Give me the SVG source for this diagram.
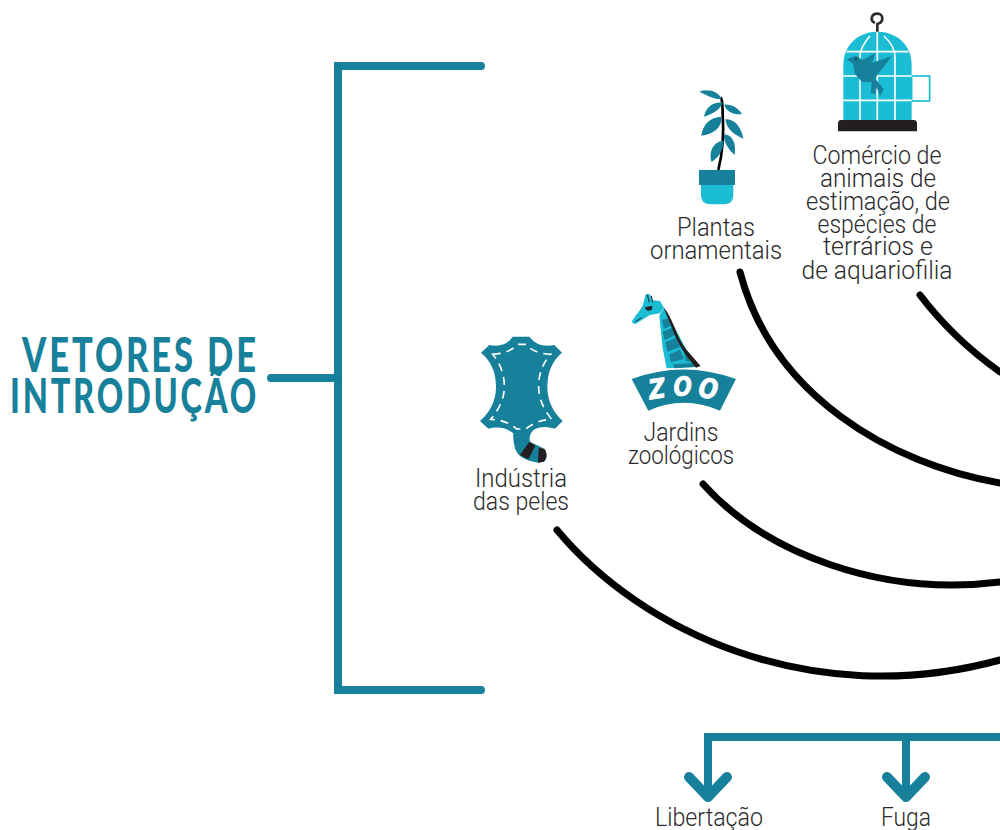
<svg xmlns="http://www.w3.org/2000/svg" width="1000" height="830" viewBox="0 0 1000 830">
<style>
.l{font-family:"Roboto","Liberation Sans",sans-serif;font-weight:300;font-size:26px;fill:#2b2b2b;text-anchor:middle}
.t{font-family:"Lato","Liberation Sans",sans-serif;font-weight:900;font-size:47px;letter-spacing:4px;fill:#17809b;text-anchor:start}
.tl{fill:none;stroke:#17809b;stroke-linecap:round;stroke-width:8}
.bk{fill:none;stroke:#000;stroke-linecap:round;stroke-width:7}
.a{fill:none;stroke:#17809b;stroke-linecap:round;stroke-linejoin:round;stroke-width:10}
.teal{fill:#17809b}.cy{fill:#1bbdd4}.w{fill:none;stroke:#fff;stroke-width:5}
.z{font-family:"DejaVu Sans",sans-serif;font-weight:700;font-style:italic;font-size:82px;fill:#fff;stroke:#fff;stroke-width:2;text-anchor:middle}
</style>
<rect width="1000" height="830" fill="#fff"/>
<g id="title">
<text class="t" x="22" y="372" textLength="237" lengthAdjust="spacingAndGlyphs">VETORES DE</text>
<text class="t" x="10" y="413" textLength="249" lengthAdjust="spacingAndGlyphs">INTRODUÇÃO</text>
</g>
<g id="connectors">
<path class="tl" d="M481 66H338V690H481"/>
<path class="tl" d="M271 378H338"/>
<path class="bk" d="M740 272C772 395 890 464 1000 483"/>
<path class="bk" d="M920 295C942 324 972 352 1000 372"/>
<path class="bk" d="M703 484C765 553 880 597 1000 582"/>
<path class="bk" d="M557 530C640 630 810 712 1000 660"/>
<path class="tl" style="stroke-linecap:butt" d="M1000 737H708V798M906 737V798"/>
<path class="a" d="M689 777L708 797L727 777M887 777L906 797L925 777"/>
</g>
<g id="plant" transform="translate(680 0) scale(.3333)">
<path d="M115 510C130 450 132 400 128 340C128 320 128 300 122 292" fill="none" stroke="#000" stroke-width="8"/>
<path class="teal" d="M58 275C85 265 115 275 125 297C100 298 80 285 58 275ZM72 350C78 320 100 305 128 308C120 330 100 340 72 350ZM133 314C155 312 175 325 186 342C165 345 140 338 133 314ZM64 407C68 375 90 350 125 350C125 385 100 402 64 407ZM136 358C165 355 185 385 190 416C165 405 140 390 136 358ZM95 486C85 455 100 425 130 422C130 450 118 470 95 486ZM132 402C155 405 170 425 164 465C148 450 130 430 132 402Z"/>
<path class="cy" d="M63 550H160V585Q160 613 132 613H91Q63 613 63 585Z"/>
<rect class="teal" x="57" y="510" width="108" height="45"/>
</g>
<g id="cage" transform="translate(680 0) scale(.3333)">
<path d="M592 96V72C612 68 612 41 592 41C574 41 570 60 582 67" fill="none" stroke="#2b2b2b" stroke-width="8" stroke-linecap="round"/>
<rect x="695" y="228" width="54" height="75" fill="#fff" stroke="#1bbdd4" stroke-width="5"/>
<path class="cy" d="M490 360V195C490 135 535 95 592 95C650 95 695 135 695 195V360Z"/>
<path class="w" d="M500 155H685M490 228H695M490 301H695M592 95V360M540 360V170C540 145 555 125 570 108M645 360V170C645 145 630 125 612 108"/>
<path class="teal" d="M500 178L528 167L548 180L585 160L577 188L636 168L602 212L585 235L612 268L600 288L590 262L585 282L572 280L575 247L545 245L525 222L518 190Z"/>
<circle cx="528" cy="177" r="3" fill="#222"/>
<path d="M474 394V370Q474 360 484 360H701Q711 360 711 370V394Z" fill="#231f20"/>
</g>
<g id="leather" transform="translate(460 285) scale(.3333)">
<path class="teal" d="M63 203L88 180Q135 190 158 155H208Q235 190 283 180L306 203Q262 240 262 305Q262 365 308 408L285 431Q250 420 225 432Q205 445 210 470L250 490Q268 510 255 528L235 533Q175 525 165 490Q158 465 160 445Q130 420 85 431L60 408Q108 365 108 305Q108 240 63 203Z"/>
<path d="M208 470L226 482L205 523L180 510ZM236 488L254 492Q266 510 252 530L234 533Z" fill="#231f20"/>
<path fill="none" stroke="#fff" stroke-width="5" stroke-dasharray="24 18" d="M98 208Q150 205 172 178H198Q220 205 272 208Q235 250 236 305Q236 355 275 403Q230 405 198 432H170Q140 405 92 403Q133 355 133 305Q133 250 98 208Z"/>
</g>
<g id="zoo" transform="translate(460 285) scale(.3333)">
<path class="cy" d="M598 92L612 68L680 195L716 245L620 250L608 190Z"/>
<path class="teal" d="M606 105L625 100L632 122L612 132ZM608 140L636 128L645 150L614 166ZM616 172L648 158L660 186L622 200ZM628 208L660 194L672 222L632 232ZM668 190L684 205L690 232L678 228ZM640 238L700 234L705 246L642 250Z"/>
<path d="M610 66C640 100 650 160 680 195L722 243L708 248C670 205 650 170 630 115Z" fill="#231f20"/>
<path class="cy" d="M515 112C525 90 545 75 550 55L557 28L568 26L578 46L600 48L612 68L600 85L570 90L525 118Z"/>
<path d="M556 68L576 64L574 74L562 76ZM527 110L545 98" fill="#231f20" stroke="#231f20" stroke-width="3"/>
<path d="M562 30L568 52M574 32L578 52" stroke="#231f20" stroke-width="3" fill="none"/>
<path class="teal" d="M515 282Q670 225 828 282L780 377Q670 330 565 377Z"/>
<text class="z" x="595" y="340" textLength="50" lengthAdjust="spacingAndGlyphs" transform="rotate(-8 595 340)">Z</text>
<text class="z" x="668" y="332" textLength="55" lengthAdjust="spacingAndGlyphs">O</text>
<text class="z" x="741" y="339" textLength="58" lengthAdjust="spacingAndGlyphs" transform="rotate(8 741 339)">O</text>
</g>
<g id="labels">
<text class="l" x="877" y="164" textLength="129" lengthAdjust="spacingAndGlyphs">Comércio de</text>
<text class="l" x="878" y="187" textLength="116" lengthAdjust="spacingAndGlyphs">animais de</text>
<text class="l" x="878" y="210" textLength="144" lengthAdjust="spacingAndGlyphs">estimação, de</text>
<text class="l" x="877" y="233" textLength="119" lengthAdjust="spacingAndGlyphs">espécies de</text>
<text class="l" x="878" y="255" textLength="110" lengthAdjust="spacingAndGlyphs">terrários e</text>
<text class="l" x="877" y="279" textLength="151" lengthAdjust="spacingAndGlyphs">de aquariofilia</text>
<text class="l" x="716" y="236" textLength="78" lengthAdjust="spacingAndGlyphs">Plantas</text>
<text class="l" x="716" y="259" textLength="132" lengthAdjust="spacingAndGlyphs">ornamentais</text>
<text class="l" x="681" y="441" textLength="75" lengthAdjust="spacingAndGlyphs">Jardins</text>
<text class="l" x="681" y="464" textLength="106" lengthAdjust="spacingAndGlyphs">zoológicos</text>
<text class="l" x="521" y="487" textLength="92" lengthAdjust="spacingAndGlyphs">Indústria</text>
<text class="l" x="521" y="510" textLength="96" lengthAdjust="spacingAndGlyphs">das peles</text>
<text class="l" x="709" y="826" textLength="108" lengthAdjust="spacingAndGlyphs">Libertação</text>
<text class="l" x="906" y="826" textLength="50" lengthAdjust="spacingAndGlyphs">Fuga</text>
</g>
</svg>
